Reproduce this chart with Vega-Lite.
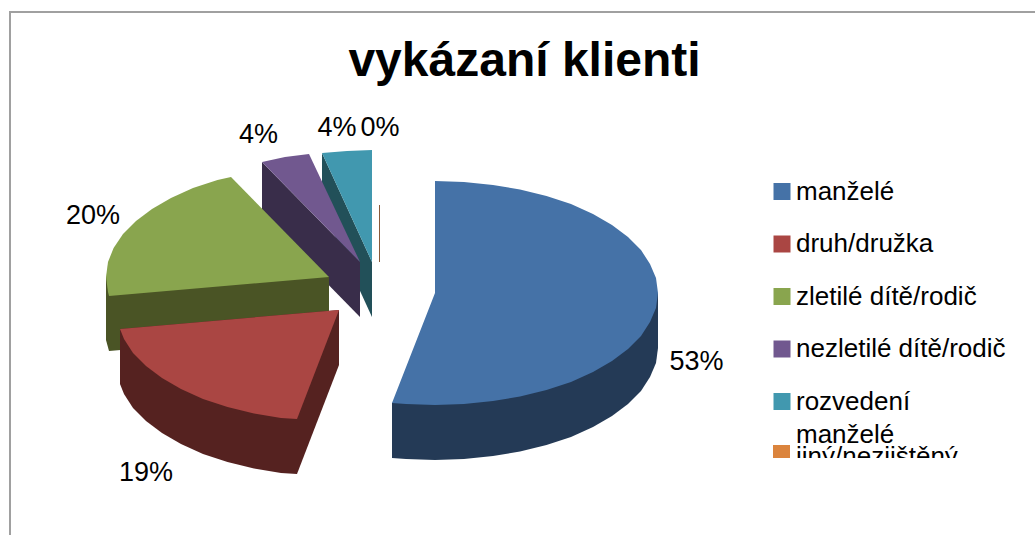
{"$schema":"https://vega.github.io/schema/vega-lite/v6.json","width":1035,"height":535,"padding":0,"autosize":{"type":"none"},"background":"white","view":{"stroke":null},
"title":{"text":"vykázaní klienti","font":"Liberation Sans","fontSize":48,"fontWeight":"bold","color":"#000000","anchor":"middle","frame":"group","orient":"top","offset":-124,"dx":7,"baseline":"alphabetic"},
"datasets":{"slices":[
{"p":"rozvedení manželé bok","i":1,"x":322,"y":153},{"p":"rozvedení manželé bok","i":2,"x":322,"y":208},{"p":"rozvedení manželé bok","i":3,"x":372,"y":317},{"p":"rozvedení manželé bok","i":4,"x":372,"y":262},
{"p":"rozvedení manželé","i":1,"x":322,"y":153},{"p":"rozvedení manželé","i":2,"x":347,"y":151},{"p":"rozvedení manželé","i":3,"x":372,"y":150},{"p":"rozvedení manželé","i":4,"x":372,"y":262},
{"p":"nezletilé dítě/rodič bok","i":1,"x":262,"y":162},{"p":"nezletilé dítě/rodič bok","i":2,"x":262,"y":217},{"p":"nezletilé dítě/rodič bok","i":3,"x":360,"y":317},{"p":"nezletilé dítě/rodič bok","i":4,"x":360,"y":262},
{"p":"nezletilé dítě/rodič","i":1,"x":262,"y":162},{"p":"nezletilé dítě/rodič","i":2,"x":285,"y":157},{"p":"nezletilé dítě/rodič","i":3,"x":309,"y":154},{"p":"nezletilé dítě/rodič","i":4,"x":360,"y":262},
{"p":"zletilé dítě/rodič bok","i":1,"x":329,"y":277},{"p":"zletilé dítě/rodič bok","i":2,"x":329,"y":332},{"p":"zletilé dítě/rodič bok","i":3,"x":109,"y":351},{"p":"zletilé dítě/rodič bok","i":4,"x":106,"y":340},{"p":"zletilé dítě/rodič bok","i":5,"x":106,"y":277},
{"p":"zletilé dítě/rodič","i":1,"x":329,"y":277},{"p":"zletilé dítě/rodič","i":2,"x":109,"y":296},{"p":"zletilé dítě/rodič","i":3,"x":108,"y":292},{"p":"zletilé dítě/rodič","i":4,"x":106,"y":277},{"p":"zletilé dítě/rodič","i":5,"x":108,"y":262},{"p":"zletilé dítě/rodič","i":6,"x":113.6,"y":248},{"p":"zletilé dítě/rodič","i":7,"x":123,"y":234},{"p":"zletilé dítě/rodič","i":8,"x":136,"y":221},{"p":"zletilé dítě/rodič","i":9,"x":152,"y":209},{"p":"zletilé dítě/rodič","i":10,"x":171,"y":198},{"p":"zletilé dítě/rodič","i":11,"x":193,"y":188},{"p":"zletilé dítě/rodič","i":12,"x":217.5,"y":180},{"p":"zletilé dítě/rodič","i":13,"x":231,"y":177},
{"p":"manželé bok","i":1,"x":658,"y":293},{"p":"manželé bok","i":2,"x":658,"y":348},{"p":"manželé bok","i":3,"x":656,"y":363},{"p":"manželé bok","i":4,"x":650,"y":377},{"p":"manželé bok","i":5,"x":641,"y":391},{"p":"manželé bok","i":6,"x":628,"y":404},{"p":"manželé bok","i":7,"x":612,"y":416},{"p":"manželé bok","i":8,"x":593,"y":427},{"p":"manželé bok","i":9,"x":571,"y":437},{"p":"manželé bok","i":10,"x":546.5,"y":445},{"p":"manželé bok","i":11,"x":520,"y":451.5},{"p":"manželé bok","i":12,"x":493,"y":456},{"p":"manželé bok","i":13,"x":464,"y":459},{"p":"manželé bok","i":14,"x":435,"y":460},{"p":"manželé bok","i":15,"x":406,"y":459},{"p":"manželé bok","i":16,"x":392,"y":458},{"p":"manželé bok","i":17,"x":392,"y":403},
{"p":"manželé","i":1,"x":435,"y":293},{"p":"manželé","i":2,"x":435,"y":181},{"p":"manželé","i":3,"x":464,"y":182},{"p":"manželé","i":4,"x":493,"y":185},{"p":"manželé","i":5,"x":520,"y":189.5},{"p":"manželé","i":6,"x":546.5,"y":196},{"p":"manželé","i":7,"x":571,"y":204},{"p":"manželé","i":8,"x":593,"y":214},{"p":"manželé","i":9,"x":612,"y":225},{"p":"manželé","i":10,"x":628,"y":237},{"p":"manželé","i":11,"x":641,"y":250},{"p":"manželé","i":12,"x":650,"y":264},{"p":"manželé","i":13,"x":656,"y":278},{"p":"manželé","i":14,"x":658,"y":293},{"p":"manželé","i":15,"x":656,"y":308},{"p":"manželé","i":16,"x":650,"y":322},{"p":"manželé","i":17,"x":641,"y":336},{"p":"manželé","i":18,"x":628,"y":349},{"p":"manželé","i":19,"x":612,"y":361},{"p":"manželé","i":20,"x":593,"y":372},{"p":"manželé","i":21,"x":571,"y":382},{"p":"manželé","i":22,"x":546.5,"y":390},{"p":"manželé","i":23,"x":520,"y":396.5},{"p":"manželé","i":24,"x":493,"y":401},{"p":"manželé","i":25,"x":464,"y":404},{"p":"manželé","i":26,"x":435,"y":405},{"p":"manželé","i":27,"x":406,"y":404},{"p":"manželé","i":28,"x":392,"y":403},
{"p":"druh/družka bok","i":1,"x":339,"y":310},{"p":"druh/družka bok","i":2,"x":339,"y":365},{"p":"druh/družka bok","i":3,"x":297,"y":474},{"p":"druh/družka bok","i":4,"x":281,"y":473},{"p":"druh/družka bok","i":5,"x":254,"y":468.5},{"p":"druh/družka bok","i":6,"x":227.5,"y":462},{"p":"druh/družka bok","i":7,"x":203,"y":454},{"p":"druh/družka bok","i":8,"x":181,"y":444},{"p":"druh/družka bok","i":9,"x":162,"y":433},{"p":"druh/družka bok","i":10,"x":146,"y":421},{"p":"druh/družka bok","i":11,"x":133,"y":408},{"p":"druh/družka bok","i":12,"x":124,"y":394},{"p":"druh/družka bok","i":13,"x":120,"y":384},{"p":"druh/družka bok","i":14,"x":120,"y":329},
{"p":"druh/družka","i":1,"x":339,"y":310},{"p":"druh/družka","i":2,"x":297,"y":419},{"p":"druh/družka","i":3,"x":281,"y":418},{"p":"druh/družka","i":4,"x":254,"y":413.5},{"p":"druh/družka","i":5,"x":227.5,"y":407},{"p":"druh/družka","i":6,"x":203,"y":399},{"p":"druh/družka","i":7,"x":181,"y":389},{"p":"druh/družka","i":8,"x":162,"y":378},{"p":"druh/družka","i":9,"x":146,"y":366},{"p":"druh/družka","i":10,"x":133,"y":353},{"p":"druh/družka","i":11,"x":124,"y":339},{"p":"druh/družka","i":12,"x":120,"y":329}
]},
"layer":[
{"data":{"values":[{"x":1035,"y":12},{"x":10,"y":12},{"x":10,"y":535}]},"mark":{"type":"line","stroke":"#a0a0a0","strokeWidth":2},"encoding":{"x":{"field":"x","type":"quantitative","scale":{"domain":[0,1035],"nice":false,"zero":false},"axis":null},"y":{"field":"y","type":"quantitative","scale":{"domain":[0,535],"reverse":true,"nice":false,"zero":false},"axis":null},"order":{"field":"x","sort":"descending"}}},
{"data":{"name":"slices"},"mark":{"type":"line","strokeWidth":0,"stroke":null},"encoding":{"x":{"field":"x","type":"quantitative","axis":null},"y":{"field":"y","type":"quantitative","axis":null},"order":{"field":"i"},"detail":{"field":"p"},
"fill":{"field":"p","type":"nominal","scale":{"domain":["manželé","druh/družka","zletilé dítě/rodič","nezletilé dítě/rodič","rozvedení manželé","jiný/nezjištěný","manželé bok","druh/družka bok","zletilé dítě/rodič bok","nezletilé dítě/rodič bok","rozvedení manželé bok"],"range":["#4572a7","#aa4643","#89a54e","#71588f","#4198af","#db843d","#243a56","#552220","#4a5425","#392d4a","#225059"]},
"legend":{"values":["manželé","druh/družka","zletilé dítě/rodič","nezletilé dítě/rodič","rozvedení manželé"],"orient":"none","legendX":769,"legendY":178.5,"title":null,"padding":0,"symbolType":"square","symbolSize":289,"symbolStrokeWidth":0,"labelFont":"Liberation Sans","labelFontSize":26,"labelColor":"#000000","labelLimit":300,"labelOffset":1,"rowPadding":26.5,"labelExpr":"datum.label == 'rozvedení manželé' ? 'rozvedení' : datum.label"}}}},
{"data":{"values":[{"v":"0%","x":379.5,"y":205,"y2":262}]},"mark":{"type":"rule","stroke":"#8a5a3a","strokeWidth":1},"encoding":{"x":{"field":"x","type":"quantitative"},"y":{"field":"y","type":"quantitative"},"y2":{"field":"y2"}}},
{"data":{"values":[{"t":"jiný/nezjištěný","x":773,"x2":790,"y":445,"y2":462}]},"mark":{"type":"rect","fill":"#db843d"},"encoding":{"x":{"field":"x","type":"quantitative"},"x2":{"field":"x2"},"y":{"field":"y","type":"quantitative"},"y2":{"field":"y2"}}},
{"data":{"values":[{"t":"jiný/nezjištěný","x":796,"y":465}]},"mark":{"type":"text","font":"Liberation Sans","fontSize":26,"baseline":"alphabetic","align":"left","color":"#000000"},"encoding":{"x":{"field":"x","type":"quantitative"},"y":{"field":"y","type":"quantitative"},"text":{"field":"t"}}},
{"data":{"values":[{"x":770,"x2":1035,"y":458,"y2":490}]},"mark":{"type":"rect","fill":"white"},"encoding":{"x":{"field":"x","type":"quantitative"},"x2":{"field":"x2"},"y":{"field":"y","type":"quantitative"},"y2":{"field":"y2"}}},
{"data":{"values":[{"t":"manželé","x":796,"y":443}]},"mark":{"type":"text","font":"Liberation Sans","fontSize":26,"baseline":"alphabetic","align":"left","color":"#000000"},"encoding":{"x":{"field":"x","type":"quantitative"},"y":{"field":"y","type":"quantitative"},"text":{"field":"t"}}},
{"data":{"values":[{"t":"53%","x":696.5,"y":370},{"t":"19%","x":146,"y":481},{"t":"20%","x":93,"y":224},{"t":"4%","x":258.5,"y":143},{"t":"4%","x":337,"y":136},{"t":"0%","x":380,"y":136}]},"mark":{"type":"text","font":"Liberation Sans","fontSize":27,"baseline":"alphabetic","align":"center","color":"#000000"},"encoding":{"x":{"field":"x","type":"quantitative"},"y":{"field":"y","type":"quantitative"},"text":{"field":"t"}}}
]}
